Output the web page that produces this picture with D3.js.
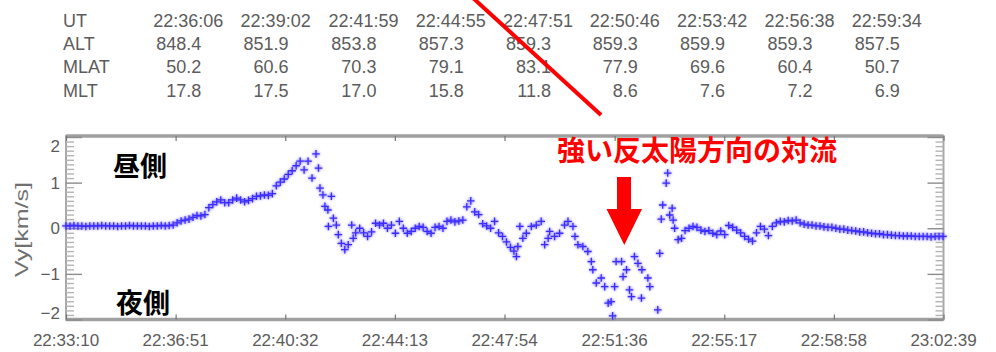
<!DOCTYPE html>
<html>
<head>
<meta charset="utf-8">
<style>
  body { margin: 0; background: #fff; }
  .tbl { font-family: "Liberation Sans", Arial, sans-serif; font-size: 18px; fill: #5c5c5c; }
  .tick-lbl { font-family: "Liberation Sans", Arial, sans-serif; font-size: 17px; fill: #5c5c5c; }
  .jp { font-family: "Noto Sans CJK JP", sans-serif; font-weight: bold; }
  .axis path.domain { display: none; }
</style>
</head>
<body>
<svg width="996" height="352"></svg>
<script src="https://d3js.org/d3.v7.min.js"></script>
<script>
// time axis (seconds since 22:33:10)
var startTime = "22:33:10";
var endSec = 1769;
var xTickLabels = ["22:33:10", "22:36:51", "22:40:32", "22:44:13", "22:47:54", "22:51:36", "22:55:17", "22:58:58", "23:02:39"];
var xTickSecs = [0, 221, 442, 663, 884, 1106, 1327, 1548, 1769];
var yTicks = [-2, -1, 0, 1, 2];

// orbit table
var rowNames = ["UT", "ALT", "MLAT", "MLT"];
var utTimes = ["22:36:06", "22:39:02", "22:41:59", "22:44:55", "22:47:51", "22:50:46", "22:53:42", "22:56:38", "22:59:34"];
var altVals = ["848.4", "851.9", "853.8", "857.3", "859.3", "859.3", "859.9", "859.3", "857.5"];
var mlatVals = ["50.2", "60.6", "70.3", "79.1", "83.1", "77.9", "69.6", "60.4", "50.7"];
var mltVals = ["17.8", "17.5", "17.0", "15.8", "11.8", "8.6", "7.6", "7.2", "6.9"];

// Vy samples [seconds since start, km/s]
var vySamples = [
  [0,0.05],[8,0.05],[16,0.06],[24,0.05],[32,0.05],[40,0.04],[48,0.05],[56,0.05],[64,0.05],[72,0.06],
  [80,0.05],[88,0.05],[96,0.05],[104,0.04],[112,0.05],[120,0.05],[128,0.06],[136,0.05],[144,0.05],[152,0.05],
  [160,0.05],[168,0.04],[176,0.05],[184,0.05],[192,0.06],[200,0.05],[208,0.06],
  [216,0.07],[224,0.12],[232,0.16],[240,0.18],[248,0.20],[256,0.24],[264,0.28],[272,0.27],[280,0.30],
  [288,0.45],[296,0.52],[304,0.58],[312,0.62],[320,0.56],[328,0.56],[336,0.62],[344,0.66],[352,0.62],
  [360,0.58],[368,0.61],[376,0.65],[384,0.70],[392,0.71],[400,0.73],[408,0.72],[416,0.76],[424,0.93],
  [432,1.01],[440,1.08],[448,1.18],[456,1.26],[464,1.37],[472,1.47],[480,1.28],[488,1.47],[496,1.10],
  [504,1.63],
  [509,1.32],[512,0.88],[518,0.73],[522,0.48],[528,0.40],[529,0.04],[535,0.70],[539,0.22],[545,0.07],
  [549,-0.14],[555,-0.33],[562,-0.47],[569,-0.36],[576,0.07],[579,-0.22],
  [584,-0.10],[592,0.00],[600,-0.10],[608,-0.18],[616,-0.08],[624,0.11],[632,0.07],[640,0.11],[648,0.00],
  [656,0.07],[664,-0.11],[672,0.15],[680,0.00],[688,-0.11],[696,-0.07],[704,0.00],[712,0.04],[720,0.02],
  [728,-0.07],[736,-0.11],[744,0.02],[752,0.04],[760,0.00],[768,0.15],[776,0.18],[784,0.14],[792,0.16],
  [800,0.18],[808,0.47],[816,0.60],[824,0.36],[832,0.30],[840,0.10],[848,0.05],[856,0.00],[864,0.15],
  [872,-0.10],
  [880,-0.18],[888,-0.30],[896,-0.42],[903,-0.50],[908,-0.62],[911,-0.40],[915,0.04],[921,-0.22],[928,-0.11],
  [938,0.04],[948,0.07],[958,0.15],[965,-0.36],[972,-0.22],[975,-0.07],[985,-0.18],[995,-0.11],[1005,0.07],
  [1012,0.15],[1022,0.04],[1026,-0.18],[1032,-0.36],[1042,-0.40],[1052,-0.51],[1059,-0.73],[1062,-0.91],
  [1069,-1.20],[1079,-1.09],[1086,-1.28],[1093,-1.64],[1099,-1.61],[1102,-1.92],[1106,-1.28],[1109,-0.73],
  [1120,-0.73],[1123,-1.06],[1130,-0.91],[1136,-1.35],[1140,-1.50],[1146,-0.62],[1153,-0.77],[1160,-1.53],
  [1161,-0.91],[1173,-1.09],[1177,-1.28],[1193,-1.79],[1197,-0.55],[1200,0.20],[1203,0.51],[1210,0.99],
  [1213,1.21],[1217,0.29],[1222,0.44],[1224,0.18],[1227,0.00],[1234,-0.25],[1241,-0.22],
  [1248,-0.05],[1256,0.00],[1264,0.04],[1272,0.02],[1280,-0.04],[1288,-0.07],[1296,-0.05],[1304,-0.11],
  [1312,-0.14],[1320,-0.06],[1328,-0.14],[1336,0.06],[1344,0.02],[1352,-0.04],[1360,-0.10],[1368,-0.18],
  [1376,-0.24],[1384,-0.28],[1392,-0.10],[1400,0.04],[1408,-0.02],[1416,-0.16],[1424,0.04],[1432,0.12],
  [1440,0.15],[1448,0.14],[1456,0.17],[1464,0.16],[1472,0.18],[1480,0.12],[1488,0.09],[1496,0.07],
  [1504,0.07],[1512,0.05],[1520,0.05],[1528,0.03],[1536,0.02],[1544,0.02],[1552,0.00],[1560,-0.02],
  [1568,-0.02],[1576,-0.04],[1584,-0.05],[1592,-0.06],[1600,-0.08],[1608,-0.08],[1616,-0.10],[1624,-0.11],
  [1632,-0.12],[1640,-0.12],[1648,-0.14],[1656,-0.14],[1664,-0.15],[1672,-0.16],[1680,-0.16],[1688,-0.17],
  [1696,-0.17],[1704,-0.17],[1712,-0.18],[1720,-0.18],[1728,-0.18],[1736,-0.18],[1744,-0.19],[1752,-0.18],
  [1760,-0.18],[1768,-0.18]
];

function toSec(s) {
  var p = s.split(":").map(Number), q = startTime.split(":").map(Number);
  return (p[0] - q[0]) * 3600 + (p[1] - q[1]) * 60 + (p[2] - q[2]);
}

var svg = d3.select("svg");
var plot = {left: 66, right: 943.5, top: 136, bottom: 319.5};

var x = d3.scaleLinear().domain([0, endSec]).range([plot.left, plot.right]);
var y = d3.scaleLinear().domain([-2, 2]).range([plot.bottom, 137]);

// ---- table at top
var rowY = [26.5, 50, 73.3, 96.5];
var tbl = svg.append("g").attr("class", "tbl");
tbl.selectAll("text.name").data(rowNames).enter().append("text")
  .attr("class", "name").attr("x", 63).attr("y", (d, i) => rowY[i]).text(d => d);
tbl.selectAll("text.ut").data(utTimes).enter().append("text")
  .attr("x", d => x(toSec(d))).attr("y", rowY[0]).text(d => d);
[altVals, mlatVals, mltVals].forEach(function(vals, r) {
  tbl.selectAll("text.r" + r).data(vals).enter().append("text")
    .attr("x", (d, i) => x(toSec(utTimes[i])) + 48)
    .attr("y", rowY[r + 1])
    .attr("text-anchor", "end")
    .text(d => d);
});

// ---- frame
svg.append("rect")
  .attr("x", plot.left).attr("y", plot.top)
  .attr("width", plot.right - plot.left).attr("height", plot.bottom - plot.top)
  .attr("fill", "none").attr("stroke", "#a8a8a8").attr("stroke-width", 2);
svg.append("line").attr("x1", plot.left).attr("x2", plot.right).attr("y1", plot.top).attr("y2", plot.top)
  .attr("stroke", "#a0a0a0").attr("stroke-width", 3.5);
svg.append("line").attr("x1", plot.left).attr("x2", plot.right).attr("y1", plot.bottom).attr("y2", plot.bottom)
  .attr("stroke", "#a0a0a0").attr("stroke-width", 3.5);

// y ticks, inward on both sides
var minorY = d3.range(-20, 21).filter(i => i % 10 !== 0).map(i => i / 10);
function yTickGroup(axis, xpos, vals, size, col, w) {
  svg.append("g").attr("class", "axis")
    .attr("transform", "translate(" + xpos + ",0)")
    .call(axis(y).tickValues(vals).tickSize(size).tickFormat(""))
    .selectAll("line").attr("stroke", col).attr("stroke-width", w);
}
yTickGroup(d3.axisRight, plot.left, minorY, 8, "#b4b4b4", 1.4);
yTickGroup(d3.axisLeft, plot.right, minorY, 8, "#b4b4b4", 1.4);
yTickGroup(d3.axisRight, plot.left, yTicks, 16, "#8c8c8c", 1.4);
yTickGroup(d3.axisLeft, plot.right, yTicks, 16, "#8c8c8c", 1.4);

// x ticks, inward top and bottom
svg.append("g").attr("class", "axis").attr("transform", "translate(0," + plot.top + ")")
  .call(d3.axisBottom(x).tickValues(xTickSecs).tickSize(5).tickFormat(""))
  .selectAll("line").attr("stroke", "#777").attr("stroke-width", 1.2);
svg.append("g").attr("class", "axis").attr("transform", "translate(0," + plot.bottom + ")")
  .call(d3.axisTop(x).tickValues(xTickSecs).tickSize(5).tickFormat(""))
  .selectAll("line").attr("stroke", "#777").attr("stroke-width", 1.2);

// tick labels
svg.selectAll("text.xl").data(xTickSecs).enter().append("text")
  .attr("class", "tick-lbl").attr("text-anchor", "middle")
  .attr("x", d => x(d)).attr("y", 346)
  .text((d, i) => xTickLabels[i]);
svg.selectAll("text.yl").data(yTicks).enter().append("text")
  .attr("class", "tick-lbl").attr("text-anchor", "end")
  .attr("x", 60)
  .attr("y", d => Math.min(Math.max(y(d), plot.top + 10), plot.bottom - 7) + 6)
  .text(d => d < 0 ? "\u2212" + Math.abs(d) : d);

svg.append("text")
  .attr("class", "tick-lbl")
  .attr("transform", "translate(28,229.5) rotate(-90)")
  .attr("text-anchor", "middle")
  .attr("textLength", 95).attr("lengthAdjust", "spacingAndGlyphs")
  .style("font-size", "19px").style("fill", "#707070")
  .text("Vy[km/s]");

// ---- data crosses
var defs = svg.append("defs");
defs.append("filter").attr("id", "soft").append("feGaussianBlur").attr("stdDeviation", 1.1);
function crossPath(d) {
  var cx = x(d[0]), cy = y(d[1]), h = 3.8;
  return "M" + (cx - h) + "," + cy + "h" + (2 * h) + "M" + cx + "," + (cy - h) + "v" + (2 * h);
}
svg.append("g").attr("filter", "url(#soft)")
  .selectAll("path").data(vySamples).enter().append("path")
  .attr("d", crossPath).attr("stroke", "#7a6aff").attr("stroke-width", 3)
  .attr("fill", "none").attr("opacity", 0.6);
svg.append("g")
  .selectAll("path").data(vySamples).enter().append("path")
  .attr("d", crossPath).attr("stroke", "#3a2cff").attr("stroke-width", 1.3).attr("fill", "none");

// ---- annotations
svg.append("text").attr("class", "jp").attr("x", 113).attr("y", 176)
  .style("font-size", "27px").attr("fill", "#000").text("昼側");
svg.append("text").attr("class", "jp").attr("x", 116).attr("y", 313)
  .style("font-size", "27px").attr("fill", "#000").text("夜側");
svg.append("text").attr("class", "jp").attr("x", 557).attr("y", 161)
  .style("font-size", "28px").attr("fill", "#ff0000").text("強い反太陽方向の対流");

svg.append("path")
  .attr("d", "M617,177 H631 V209 H642 L624.3,245 L606.5,209 H617 Z")
  .attr("fill", "#ff0000");

svg.append("line")
  .attr("x1", 473).attr("y1", -2).attr("x2", 601).attr("y2", 115)
  .attr("stroke", "#ff0000").attr("stroke-width", 4);
</script>
</body>
</html>
